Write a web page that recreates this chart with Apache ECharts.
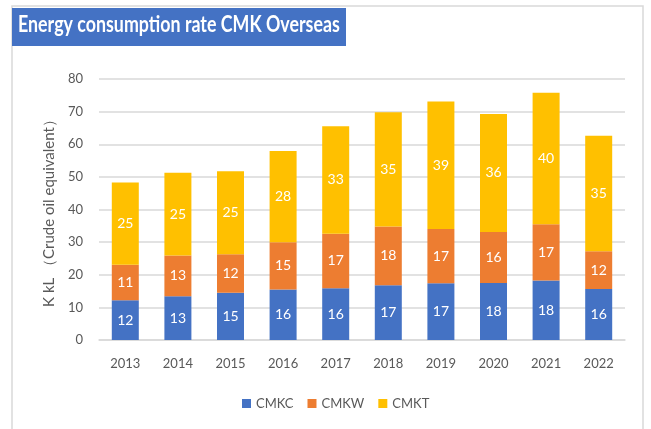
<!DOCTYPE html>
<html>
<head>
<meta charset="utf-8">
<script src="https://cdn.jsdelivr.net/npm/echarts@6/dist/echarts.min.js"></script>
<style>
  html, body { margin: 0; padding: 0; background: #fff; }
  #chart { width: 651px; height: 429px; }
</style>
</head>
<body>
<div id="chart"></div>
<script>
var years = ['2013', '2014', '2015', '2016', '2017', '2018', '2019', '2020', '2021', '2022'];
var cmkc = [12.2, 13.4, 14.5, 15.5, 15.9, 16.8, 17.4, 17.5, 18.2, 15.6];
var cmkw = [10.9, 12.5, 11.8, 14.5, 16.7, 18.0, 16.6, 15.6, 17.3, 11.6];
var cmkt = [25.2, 25.4, 25.4, 27.9, 32.9, 35.0, 39.1, 36.2, 40.3, 35.4];
var yTicks = [0, 10, 20, 30, 40, 50, 60, 70, 80];

var font = 'Lato, "Noto Sans", sans-serif';
var myChart = echarts.init(document.getElementById('chart'));

function barSeries(name, data, color) {
  return {
    name: name,
    type: 'bar',
    stack: 'total',
    data: data,
    barWidth: 27,
    itemStyle: { color: color },
    label: {
      show: true,
      position: 'inside',
      color: '#fff',
      fontSize: 14,
      fontFamily: font,
      formatter: function (p) { return Math.round(p.value); }
    }
  };
}

var option = {
  animation: false,
  backgroundColor: '#fff',
  graphic: [
    {
      type: 'rect',
      shape: { x: 12, y: 6, width: 631, height: 440 },
      style: { fill: 'none', stroke: '#d9d9d9', lineWidth: 1.5 },
      silent: true
    },
    {
      type: 'rect',
      shape: { x: 12, y: 8, width: 334, height: 38 },
      style: { fill: '#4472C4' },
      silent: true
    },
    {
      type: 'text',
      x: 18,
      y: 14,
      scaleX: 0.81,
      style: {
        text: 'Energy consumption rate CMK Overseas',
        fill: '#fff',
        font: 'bold 22px ' + font
      }
    }
  ],
  grid: { left: 99, right: 26, top: 79, bottom: 89 },
  legend: {
    bottom: 14,
    left: 237,
    itemWidth: 9,
    itemHeight: 9,
    itemGap: 14,
    icon: 'rect',
    textStyle: { color: '#595959', fontSize: 13, fontFamily: font }
  },
  xAxis: {
    type: 'category',
    data: years,
    axisTick: { show: false },
    axisLine: { lineStyle: { color: '#d9d9d9', width: 1.5 } },
    axisLabel: { color: '#595959', fontSize: 13, fontFamily: font, margin: 17 }
  },
  yAxis: {
    type: 'value',
    min: yTicks[0],
    max: yTicks[yTicks.length - 1],
    interval: 10,
    name: 'K kL （Crude oil equivalent）',
    nameLocation: 'middle',
    nameGap: 42,
    nameTextStyle: { color: '#595959', fontSize: 15, fontFamily: font },
    axisLabel: { color: '#595959', fontSize: 13, fontFamily: font, margin: 16 },
    splitLine: { lineStyle: { color: '#d9d9d9', width: 1.5 } }
  },
  series: [
    barSeries('CMKC', cmkc, '#4472C4'),
    barSeries('CMKW', cmkw, '#ED7D31'),
    barSeries('CMKT', cmkt, '#FFC000')
  ]
};
myChart.setOption(option);
</script>
</body>
</html>
